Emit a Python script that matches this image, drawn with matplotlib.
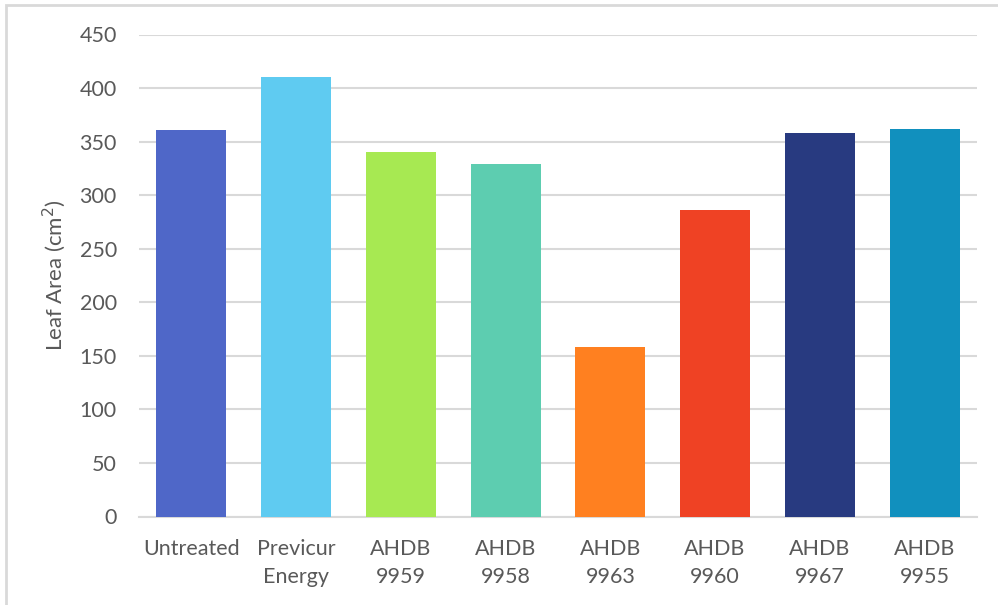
import matplotlib.pyplot as plt
from matplotlib.patches import Rectangle

treatments = ["Untreated", "Previcur\nEnergy", "AHDB\n9959", "AHDB\n9958",
              "AHDB\n9963", "AHDB\n9960", "AHDB\n9967", "AHDB\n9955"]
leaf_area = [361, 410, 340, 329, 158, 286, 358, 362]
bar_colors = ["#4F67C8", "#5FCBF1", "#A7E952", "#5DCDB0",
              "#FF8020", "#EF4224", "#283A80", "#1190BE"]
y_ticks = [0, 50, 100, 150, 200, 250, 300, 350, 400, 450]

text_color = "#595959"
grid_color = "#D9D9D9"
plt.rcParams["font.family"] = ["Lato", "DejaVu Sans"]

fig = plt.figure(figsize=(9.98, 6.05), dpi=100)
ax = fig.add_axes([139 / 998, (605 - 516.5) / 605, (977 - 139) / 998, 482 / 605])

x = range(len(treatments))
ax.bar(x, leaf_area, width=0.67, color=bar_colors, zorder=3)

ax.set_ylim(0, 450)
ax.set_xlim(-0.5, len(treatments) - 0.5)
ax.set_yticks(y_ticks)
ax.set_xticks(list(x))
ax.set_xticklabels(treatments, linespacing=1.5)
ax.tick_params(axis="both", length=0, labelsize=15.5, labelcolor=text_color)
ax.tick_params(axis="x", pad=16)
ax.tick_params(axis="y", pad=16)

ax.yaxis.grid(True, color=grid_color, linewidth=1.5, zorder=0)
for side in ["top", "right", "left"]:
    ax.spines[side].set_visible(False)
ax.spines["bottom"].set_color(grid_color)
ax.spines["bottom"].set_linewidth(1.5)

ax.set_ylabel("Leaf Area (cm$^2$)", fontsize=16, color=text_color, labelpad=8)

# light frame around the whole chart
fig.patches.append(Rectangle((6 / 998, -0.01), 1.0, 1 - 5 / 605 + 0.01,
                             transform=fig.transFigure, fill=False,
                             edgecolor=grid_color, linewidth=2))

fig.savefig("out.png", dpi=100)
